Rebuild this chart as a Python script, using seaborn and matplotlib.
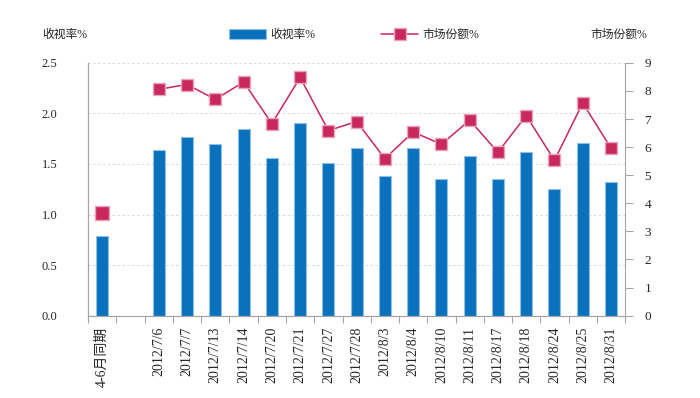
import numpy as np
import pandas as pd
import matplotlib
matplotlib.use("Agg")
import matplotlib.pyplot as plt
from matplotlib.lines import Line2D
from matplotlib.patches import Patch
import seaborn as sns

# data
categories = ["4-6月同期", "", "2012/7/6", "2012/7/7", "2012/7/13", "2012/7/14",
              "2012/7/20", "2012/7/21", "2012/7/27", "2012/7/28", "2012/8/3",
              "2012/8/4", "2012/8/10", "2012/8/11", "2012/8/17", "2012/8/18",
              "2012/8/24", "2012/8/25", "2012/8/31"]
rating = [0.79, np.nan, 1.64, 1.77, 1.70, 1.85, 1.56, 1.91, 1.51, 1.66, 1.38,
          1.66, 1.35, 1.58, 1.35, 1.62, 1.25, 1.71, 1.32]
share = [3.66, np.nan, 8.06, 8.23, 7.70, 8.32, 6.84, 8.48, 6.59, 6.91, 5.59,
         6.54, 6.10, 6.96, 5.82, 7.12, 5.53, 7.57, 5.97]
left_ticks = [0.0, 0.5, 1.0, 1.5, 2.0, 2.5]
right_ticks = list(range(10))

bar_color = "#0A71BD"
bar_edge = "#8FC0E3"
line_color = "#C8285C"
marker_edge = "#EBA3BD"
spine_color = "#A6A6A6"

sns.set_style("white")
plt.rcParams['font.family'] = ['Liberation Serif', 'Noto Sans CJK SC']

df = pd.DataFrame({"cat": categories, "rating": rating, "share": share})
df["pos"] = np.arange(len(df))

fig = plt.figure(figsize=(7, 3.98), dpi=100)
ax = fig.add_axes([0.126, 0.207, 0.767, 0.635])

sns.barplot(data=df, x="cat", y="rating", order=categories, color=bar_color,
            width=0.425, edgecolor=bar_edge, linewidth=0.8, saturation=1,
            errorbar=None, ax=ax)

ax2 = ax.twinx()
dates = df.iloc[2:]
sns.lineplot(data=dates, x="pos", y="share", ax=ax2, color=line_color, linewidth=1.1,
             marker="s", markersize=9, markerfacecolor=line_color,
             markeredgecolor=marker_edge, markeredgewidth=1)
sns.scatterplot(data=df.iloc[:1], x="pos", y="share", ax=ax2, marker="s", s=90,
                color=line_color, edgecolor=marker_edge, linewidth=1)

# left axis
ax.set_ylim(0, 2.5)
ax.set_yticks(left_ticks)
ax.set_yticklabels([f"{t:.1f}" for t in left_ticks], fontsize=9)
ax.tick_params(axis="y", length=0, pad=22)
ax.yaxis.grid(True, linestyle=(0, (2.5, 2.5)), color="#DADADA", linewidth=0.7)
ax.set_axisbelow(True)
ax.set_xlabel("")
ax.set_ylabel("")

# x axis: labels rotated, tick marks between categories
ax.set_xlim(-0.5, len(categories) - 0.5)
ax.set_xticks(np.arange(len(categories)))
ax.set_xticklabels(categories, rotation=90, fontsize=10, va="top")
ax.tick_params(axis="x", which="major", length=0, pad=8)
ax.set_xticks(np.arange(len(categories) + 1) - 0.5, minor=True)
ax.tick_params(axis="x", which="minor", length=5, color=spine_color, width=0.8,
               bottom=True)

# right axis
ax2.set_ylim(0, 9)
ax2.set_yticks(right_ticks)
ax2.set_yticklabels([str(t) for t in right_ticks], fontsize=9.5)
ax2.tick_params(axis="y", length=6, color=spine_color, width=0.8, pad=8)
ax2.set_xlim(-0.5, len(categories) - 0.5)
ax2.set_xlabel("")
ax2.set_ylabel("")
ax2.grid(False)

for a in (ax, ax2):
    a.spines["top"].set_visible(False)
    for s in ("left", "right", "bottom"):
        a.spines[s].set_color(spine_color)
        a.spines[s].set_linewidth(0.8)
ax.spines["right"].set_visible(False)

# axis titles and legend across the top
fig.text(0.061, 0.912, "收视率%", fontsize=8.5, va="center", ha="left")
fig.text(0.843, 0.912, "市场份额%", fontsize=8.5, va="center", ha="left")

handles = [Patch(facecolor=bar_color, edgecolor=bar_edge, linewidth=0.8),
           Line2D([], [], color=line_color, linewidth=1.1, marker="s", markersize=9,
                  markerfacecolor=line_color, markeredgecolor=marker_edge)]
fig.legend(handles, ["收视率%", "市场份额%"], loc="center", bbox_to_anchor=(0.506, 0.912),
           ncol=2, frameon=False, fontsize=8.5, handlelength=3.1, handleheight=0.9,
           handletextpad=0.4, columnspacing=5.6)

plt.savefig("out.png", dpi=100)
plt.close()
